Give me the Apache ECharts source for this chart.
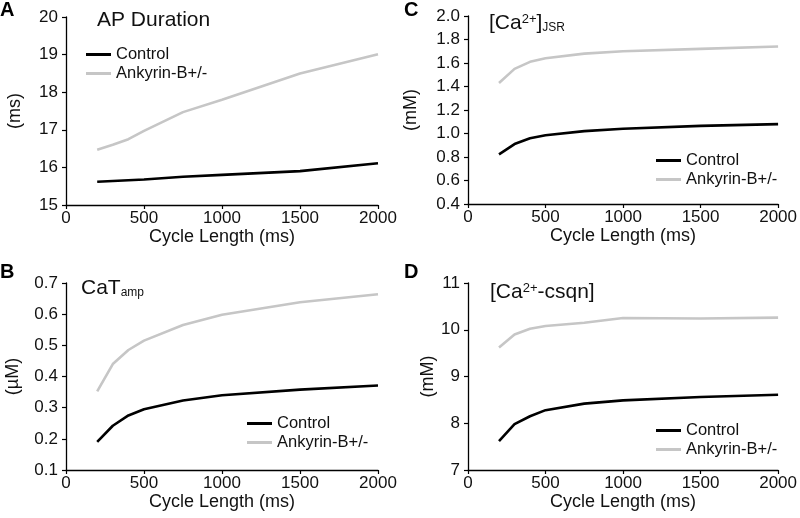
<!DOCTYPE html>
<html>
<head>
<meta charset="utf-8">
<script src="https://cdn.jsdelivr.net/npm/echarts@6/dist/echarts.min.js"></script>
<style>html,body{margin:0;padding:0;background:#fff}#c{width:800px;height:518px}</style>
</head>
<body>
<div id="c"></div>
<script>
var cycleLength = [200, 300, 400, 500, 750, 1000, 1500, 2000];
var xTicks = [0, 500, 1000, 1500, 2000];

var apdControl = [15.62, 15.64, 15.66, 15.68, 15.75, 15.80, 15.90, 16.11];
var apdAnk     = [16.47, 16.60, 16.75, 16.97, 17.47, 17.80, 18.50, 19.01];

var jsrControl = [0.823, 0.91, 0.96, 0.985, 1.02, 1.04, 1.065, 1.08];
var jsrAnk     = [1.43, 1.55, 1.61, 1.64, 1.68, 1.70, 1.72, 1.74];

var catControl = [0.19, 0.242, 0.275, 0.295, 0.323, 0.34, 0.358, 0.371];
var catAnk     = [0.352, 0.44, 0.485, 0.515, 0.565, 0.598, 0.638, 0.664];

var csqControl = [7.62, 7.98, 8.15, 8.28, 8.42, 8.49, 8.56, 8.61];
var csqAnk     = [9.62, 9.90, 10.02, 10.08, 10.15, 10.25, 10.24, 10.26];

var seriesNames = ['Control', 'Ankyrin-B+/-'];

function pairs(y) { return cycleLength.map(function (x, i) { return [x, y[i]]; }); }

var FONT = 'Liberation Sans, Arial, sans-serif';
var TXT = '#111';

var grids = [
  {left: 66, top: 17, width: 312, height: 188},
  {left: 468, top: 16, width: 313, height: 188},
  {left: 66, top: 283, width: 312, height: 187},
  {left: 468, top: 283, width: 313, height: 187}
];
var yCfg = [
  {min: 15, max: 20, interval: 1, dec: 0, name: '(ms)', gap: 42},
  {min: 0.4, max: 2.0, interval: 0.2, dec: 1, name: '(mM)', gap: 48},
  {min: 0.1, max: 0.7, interval: 0.1, dec: 1, name: '(\u00b5M)', gap: 44},
  {min: 7, max: 11, interval: 1, dec: 0, name: '(mM)', gap: 31}
];
var dataSets = [[apdControl, apdAnk], [jsrControl, jsrAnk], [catControl, catAnk], [csqControl, csqAnk]];

var xAxes = [], yAxes = [], series = [], legends = [];
grids.forEach(function (g, i) {
  xAxes.push({
    gridIndex: i, type: 'value', min: xTicks[0], max: xTicks[xTicks.length - 1], interval: xTicks[1] - xTicks[0],
    name: 'Cycle Length (ms)', nameLocation: 'middle', nameGap: 17,
    nameTextStyle: {fontFamily: FONT, fontSize: 18, color: TXT},
    axisLine: {lineStyle: {color: '#000', width: 1.3}},
    axisTick: {show: true, length: 4, lineStyle: {color: '#000', width: 1.2}},
    axisLabel: {fontFamily: FONT, fontSize: 17, color: TXT, margin: 5,
      formatter: function (v) { return String(v); }},
    splitLine: {show: false}
  });
  var c = yCfg[i];
  yAxes.push({
    gridIndex: i, type: 'value', min: c.min, max: c.max, interval: c.interval,
    name: c.name, nameLocation: 'middle', nameGap: c.gap,
    nameTextStyle: {fontFamily: FONT, fontSize: 18, color: TXT},
    axisLine: {show: true, lineStyle: {color: '#000', width: 1.3}},
    axisTick: {show: true, length: 4, lineStyle: {color: '#000', width: 1.2}},
    axisLabel: {fontFamily: FONT, fontSize: 17, color: TXT, margin: 8,
      formatter: (function (d) { return function (v) { return v.toFixed(d); }; })(c.dec)},
    splitLine: {show: false}
  });
  series.push({
    name: seriesNames[0], type: 'line', xAxisIndex: i, yAxisIndex: i, data: pairs(dataSets[i][0]),
    showSymbol: false, lineStyle: {color: '#000', width: 2.6}, itemStyle: {color: '#000'}, z: 3
  });
  series.push({
    name: seriesNames[1], type: 'line', xAxisIndex: i, yAxisIndex: i, data: pairs(dataSets[i][1]),
    showSymbol: false, lineStyle: {color: '#c6c6c6', width: 2.6}, itemStyle: {color: '#c6c6c6'}, z: 2
  });
});
var legPos = [[86, 46], [656, 152], [247, 415], [656, 422]];
legPos.forEach(function (p) {
  legends.push({
    data: seriesNames, orient: 'vertical', left: p[0], top: p[1], itemGap: 2,
    itemWidth: 25, itemHeight: 3, icon: 'rect', selectedMode: false, padding: 0,
    textStyle: {fontFamily: FONT, fontSize: 16.5, color: TXT, padding: [0, 0, 0, 0]}
  });
});

var sub = {fontFamily: FONT, fontSize: 12, fontWeight: 'normal', color: TXT, padding: [10, 0, 0, 0]};
var sup = {fontFamily: FONT, fontSize: 13, fontWeight: 'normal', color: TXT, padding: [0, 0, 8, 0]};
var big = {fontFamily: FONT, fontSize: 21, fontWeight: 'normal', color: TXT};
var titles = [
  {text: 'A', left: 0, top: 0},
  {text: 'C', left: 404, top: 0},
  {text: 'B', left: 0, top: 262},
  {text: 'D', left: 404, top: 262}
].map(function (t) {
  return {text: t.text, left: t.left, top: t.top, padding: 0,
    textStyle: {fontFamily: FONT, fontWeight: 'bold', fontSize: 20, color: '#000'}};
});
titles.push({text: 'AP Duration', left: 97, top: 10, padding: 0, textStyle: big});
titles.push({text: '{b|[Ca}{p|2+}{b|]}{s|JSR}', left: 489, top: 12, padding: 0,
  textStyle: {fontWeight: 'normal', rich: {b: big, p: sup, s: sub}}});
titles.push({text: '{b|CaT}{s|amp}', left: 81, top: 277, padding: 0,
  textStyle: {fontWeight: 'normal', rich: {b: big, s: sub}}});
titles.push({text: '{b|[Ca}{p|2+}{b|-csqn]}', left: 490, top: 282, padding: 0,
  textStyle: {fontWeight: 'normal', rich: {b: big, p: sup}}});

var chart = echarts.init(document.getElementById('c'), null, {renderer: 'canvas'});
chart.setOption({
  animation: false,
  backgroundColor: '#fff',
  title: titles,
  legend: legends,
  grid: grids,
  xAxis: xAxes,
  yAxis: yAxes,
  series: series
});
</script>
</body>
</html>
